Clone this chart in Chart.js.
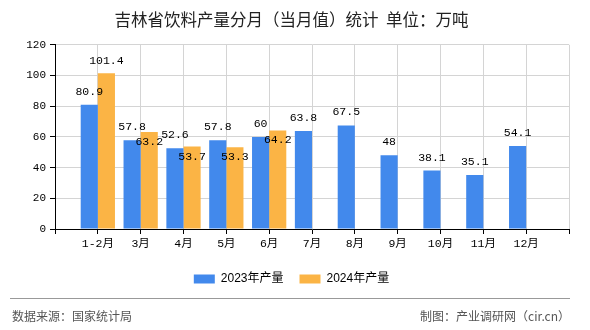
<!DOCTYPE html>
<html>
<head>
<meta charset="utf-8">
<script src="https://cdn.jsdelivr.net/npm/chart.js@4"></script>
<style>
  html, body { margin: 0; padding: 0; background: #fff; }
  #wrap { width: 590px; height: 330px; position: relative; }
</style>
</head>
<body>
<div id="wrap"><canvas id="myChart" width="590" height="330"></canvas></div>
<script>
const ctx = document.getElementById('myChart');

// datos
const meses = ['1-2月', '3月', '4月', '5月', '6月', '7月', '8月', '9月', '10月', '11月', '12月'];
const produccion2023 = [80.9, 57.8, 52.6, 57.8, 60, 63.8, 67.5, 48, 38.1, 35.1, 54.1];
const produccion2024 = [101.4, 63.2, 53.7, 53.3, 64.2];
const yTicks = [0, 20, 40, 60, 80, 100, 120];

const azul = '#4289EC';
const naranja = '#FBB445';
const fuenteMono = '"Liberation Mono", "Noto Sans CJK SC", monospace';

// hueco vacio al principio y al final del eje
const etiquetas = [''].concat(meses, ['']);
const rellenar = arr => {
    const out = [null].concat(arr);
    while (out.length < etiquetas.length) out.push(null);
    return out;
};

const etiquetasValor = {
    id: 'etiquetasValor',
    afterDatasetsDraw(chart) {
        const c = chart.ctx;
        c.save();
        c.font = '11.5px ' + fuenteMono;
        c.fillStyle = '#000';
        c.textAlign = 'center';
        c.textBaseline = 'middle';
        const m0 = chart.getDatasetMeta(0);
        const m1 = chart.getDatasetMeta(1);
        const posAzul = [];
        m0.data.forEach((bar, i) => {
            const v = chart.data.datasets[0].data[i];
            if (v === null) return;
            posAzul[i] = bar.y - 13;
            c.fillText(String(v), bar.x, bar.y - 13);
        });
        // si la etiqueta naranja choca con la azul, va dentro de la barra
        m1.data.forEach((bar, i) => {
            const v = chart.data.datasets[1].data[i];
            if (v === null) return;
            let y = bar.y - 12;
            if (posAzul[i] !== undefined && Math.abs(posAzul[i] - y) < 14) {
                y = bar.y + 10;
            }
            c.fillText(String(v), bar.x, y);
        });
        c.restore();
    }
};

const pie = {
    id: 'pie',
    afterDraw(chart) {
        const c = chart.ctx;
        c.save();
        c.strokeStyle = '#999';
        c.lineWidth = 1;
        c.beginPath();
        c.moveTo(10, 298.5);
        c.lineTo(570, 298.5);
        c.stroke();
        c.font = '12px "Noto Sans CJK SC", sans-serif';
        c.fillStyle = '#555';
        c.textBaseline = 'middle';
        c.textAlign = 'left';
        c.fillText('数据来源：国家统计局', 12, 316);
        c.textAlign = 'right';
        c.fillText('制图：产业调研网（cir.cn）', 570, 316);
        c.restore();
    }
};

new Chart(ctx, {
    type: 'bar',
    data: {
        labels: etiquetas,
        datasets: [{
            label: '2023年产量',
            data: rellenar(produccion2023),
            backgroundColor: azul,
            categoryPercentage: 0.8,
            barPercentage: 1.0
        }, {
            label: '2024年产量',
            data: rellenar(produccion2024),
            backgroundColor: naranja,
            categoryPercentage: 0.8,
            barPercentage: 1.0
        }]
    },
    options: {
        responsive: false,
        animation: false,
        maintainAspectRatio: false,
        devicePixelRatio: 1,
        layout: { padding: { left: 14, right: 21, top: 0, bottom: 35 } },
        plugins: {
            title: {
                display: true,
                text: '吉林省饮料产量分月（当月值）统计  单位：万吨',
                color: '#222',
                font: { family: '"Noto Sans CJK SC", sans-serif', size: 16.5, weight: 'normal' },
                padding: { top: 10, bottom: 15 }
            },
            legend: {
                position: 'bottom',
                labels: {
                    boxWidth: 21,
                    boxHeight: 9,
                    padding: 16,
                    color: '#000',
                    font: { family: '"Liberation Sans", "Noto Sans CJK SC", sans-serif', size: 12 }
                }
            },
            tooltip: { enabled: false }
        },
        scales: {
            x: {
                offset: false,
                grid: { color: '#d4d4d4', tickColor: '#000', tickLength: 5, offset: false },
                border: { color: '#000' },
                ticks: {
                    color: '#000',
                    autoSkip: false,
                    maxRotation: 0,
                    padding: 3,
                    font: { family: fuenteMono, size: 11.5 }
                },
                afterFit(scale) { scale.height = 28; }
            },
            y: {
                min: 0,
                max: 120,
                afterBuildTicks(scale) { scale.ticks = yTicks.map(v => ({ value: v })); },
                grid: { color: '#d4d4d4', tickColor: '#000', tickLength: 5 },
                border: { color: '#000' },
                ticks: {
                    color: '#000',
                    padding: 4,
                    font: { family: fuenteMono, size: 11 }
                },
                afterFit(scale) { scale.width = 41; }
            }
        }
    },
    plugins: [etiquetasValor, pie]
});
</script>
</body>
</html>
